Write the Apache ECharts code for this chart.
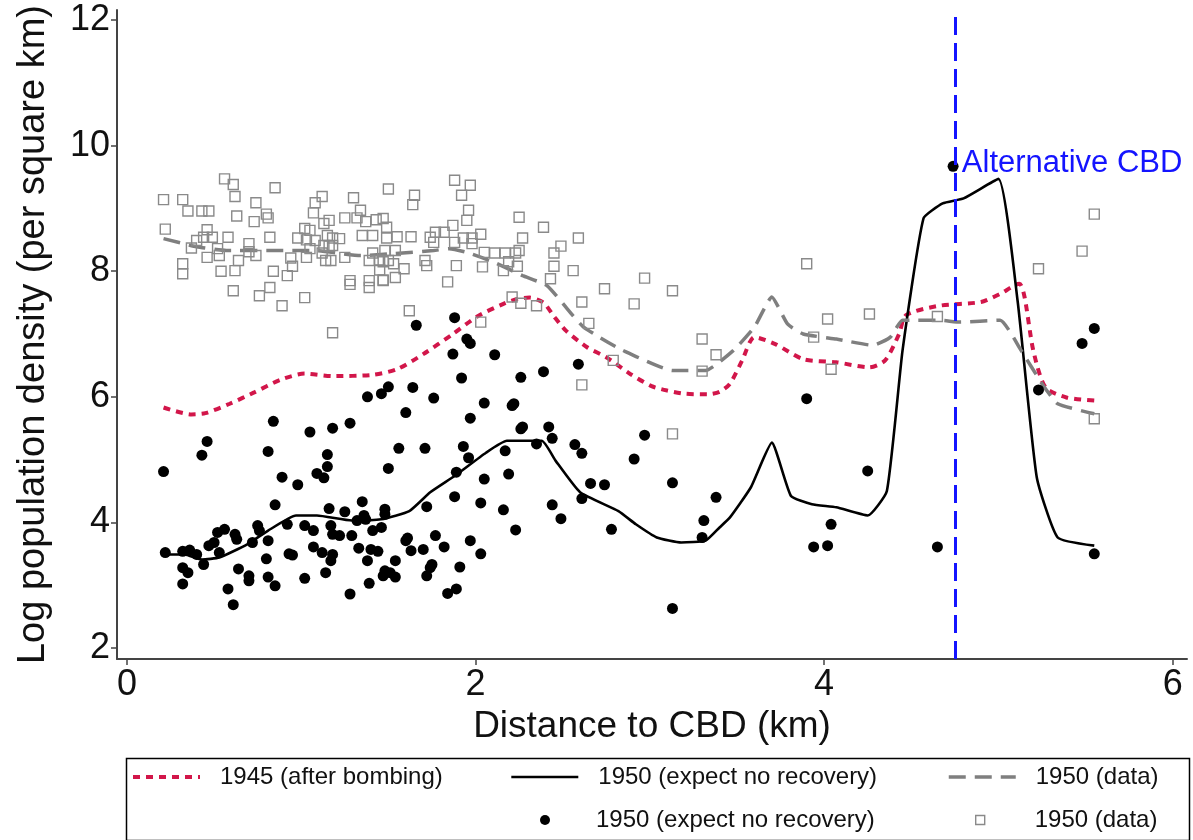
<!DOCTYPE html>
<html><head><meta charset="utf-8">
<script src="https://cdn.jsdelivr.net/npm/echarts@6/dist/echarts.min.js"></script>
<style>html,body{margin:0;padding:0;background:#fff}#c{width:1193px;height:840px}</style>
</head><body><div id="c"></div>
<script>
const xTicks = [0, 2, 4, 6];
const yTicks = [2, 4, 6, 8, 10, 12];
const cbdX = 4.75;
const cbdLabelY = 9.72;
const cbdLabel = 'Alternative CBD';
const xTitle = 'Distance to CBD (km)';
const yTitle = 'Log population density (per square km)';
const name1945 = '1945 (after bombing)';
const nameNoRec = '1950 (expect no recovery)';
const nameData = '1950 (data)';

// 1945 (after bombing) fitted line
const line1945 = [[0.21,5.83],[0.37,5.72],[0.45,5.74],[0.59,5.89],[0.73,6.07],[0.88,6.27],[1.02,6.37],[1.18,6.33],[1.41,6.35],[1.55,6.44],[1.70,6.68],[1.87,7.0],[2.01,7.28],[2.16,7.48],[2.24,7.56],[2.31,7.58],[2.39,7.50],[2.45,7.28],[2.52,7.05],[2.64,6.79],[2.75,6.63],[2.89,6.36],[3.01,6.17],[3.10,6.10],[3.20,6.05],[3.33,6.04],[3.40,6.08],[3.46,6.21],[3.53,6.58],[3.60,6.95],[3.72,6.84],[3.88,6.60],[4.07,6.55],[4.26,6.47],[4.35,6.58],[4.43,7.00],[4.47,7.30],[4.66,7.45],[4.90,7.51],[5.01,7.64],[5.12,7.80],[5.15,7.59],[5.20,6.74],[5.27,6.15],[5.39,5.99],[5.55,5.94]];
// 1950 (expect no recovery) fitted line
const lineNoRec = [[0.23,3.49],[0.33,3.49],[0.43,3.41],[0.53,3.44],[0.69,3.65],[0.81,3.87],[0.97,4.11],[1.09,4.11],[1.29,4.03],[1.46,4.05],[1.62,4.18],[1.74,4.48],[1.88,4.74],[2.06,5.11],[2.18,5.30],[2.38,5.30],[2.46,4.98],[2.60,4.48],[2.82,4.18],[2.92,3.97],[3.04,3.76],[3.18,3.68],[3.32,3.71],[3.40,3.92],[3.46,4.08],[3.58,4.56],[3.70,5.27],[3.81,4.42],[3.93,4.29],[4.07,4.24],[4.25,4.11],[4.36,4.50],[4.45,6.74],[4.57,8.84],[4.68,9.08],[4.80,9.16],[5.00,9.47],[5.11,7.53],[5.22,4.72],[5.34,3.76],[5.55,3.63]];
// 1950 (data) fitted line
const lineData = [[0.21,8.52],[0.40,8.39],[0.57,8.33],[0.80,8.33],[1.07,8.33],[1.34,8.25],[1.53,8.28],[1.76,8.33],[1.85,8.36],[1.95,8.30],[2.10,8.15],[2.27,7.93],[2.41,7.77],[2.56,7.29],[2.62,7.11],[2.71,6.95],[2.83,6.76],[3.13,6.42],[3.32,6.42],[3.48,6.74],[3.60,7.11],[3.70,7.59],[3.79,7.16],[3.88,7.00],[4.07,6.92],[4.28,6.82],[4.38,6.95],[4.45,7.22],[4.66,7.22],[4.78,7.19],[5.01,7.22],[5.13,6.74],[5.25,6.21],[5.34,5.89],[5.55,5.73]];
// 1950 (expect no recovery) points
const dotsNoRec = [[0.21,4.81],[0.46,5.29],[0.43,5.07],[0.84,5.61],[0.81,5.13],[1.05,5.44],[1.18,5.50],[1.15,5.08],[1.15,4.89],[1.09,4.78],[1.13,4.71],[0.89,4.72],[0.98,4.60],[0.85,4.28],[1.16,4.22],
[0.22,3.52],[0.32,3.54],[0.36,3.56],[0.40,3.49],[0.32,3.28],[0.35,3.20],[0.32,3.02],[0.44,3.33],[0.47,3.63],[0.50,3.68],[0.52,3.84],[0.56,3.89],[0.53,3.52],[0.62,3.81],[0.63,3.73],[0.64,3.26],[0.70,3.15],[0.70,3.07],[0.58,2.94],[0.61,2.69],[0.75,3.95],[0.76,3.87],[0.72,3.68],[0.81,3.71],[0.80,3.42],[0.81,3.13],[0.85,2.99],[0.93,3.50],[0.95,3.48],[1.02,3.11],[0.92,3.97],[1.02,3.95],[1.07,3.87],[1.07,3.61],[1.12,3.52],[1.14,3.20],[1.17,3.39],[1.18,3.81],[1.17,3.95],
[1.66,7.14],[1.88,7.26],[1.95,6.92],[1.97,6.85],[1.87,6.68],[2.11,6.67],[1.92,6.30],[2.26,6.31],[1.38,6.00],[1.46,6.05],[1.50,6.16],[1.64,6.15],[1.76,5.98],[1.60,5.75],[2.05,5.90],[2.21,5.86],[2.22,5.89],[1.97,5.66],[1.28,5.58],[1.56,5.18],[1.71,5.18],[1.93,5.21],[1.96,5.03],[2.26,5.49],[2.27,5.52],[2.17,5.14],[2.19,4.77],[2.05,4.69],[1.89,4.80],[1.50,4.86],[1.88,4.41],[2.03,4.31],[2.16,4.20],[2.23,3.88],[1.72,4.25],[1.35,4.33],[1.25,4.17],[1.48,4.21],[1.48,4.13],[1.36,4.11],[1.32,4.03],[1.37,4.05],[1.46,3.92],[1.41,3.87],[1.29,3.79],[1.22,3.79],[1.61,3.75],[1.60,3.71],[1.77,3.79],[1.82,3.61],[1.97,3.71],[2.03,3.50],[1.33,3.59],[1.40,3.57],[1.44,3.54],[1.63,3.55],[1.70,3.57],[1.18,3.49],[1.38,3.39],[1.54,3.39],[1.75,3.33],[1.74,3.28],[1.91,3.29],[1.48,3.23],[1.51,3.20],[1.54,3.13],[1.47,3.15],[1.72,3.15],[1.39,3.03],[1.28,2.86],[1.84,2.87],[1.89,2.94],
[2.59,6.52],[2.39,6.40],[2.42,5.52],[2.44,5.34],[2.35,5.25],[2.57,5.24],[2.61,5.10],[2.97,5.39],[2.91,5.01],[3.13,4.63],[3.38,4.40],[2.66,4.62],[2.74,4.60],[2.61,4.38],[2.44,4.28],[2.49,4.06],[2.78,3.89],[3.31,4.03],[3.30,3.76],[3.13,2.63],
[4.74,9.67],[3.90,5.97],[5.48,6.85],[5.55,7.09],[5.23,6.11],[4.25,4.82],[4.65,3.61],[5.55,3.50],[3.94,3.61],[4.02,3.63],[4.04,3.97]];
// 1950 (data) points
const squaresData = [[0.56,9.47],[0.61,9.38],[0.62,9.19],[0.85,9.33],[0.21,9.14],[0.32,9.14],[0.35,8.96],[0.43,8.96],[0.47,8.96],[0.74,9.09],[0.63,8.88],[0.73,8.79],[0.80,8.91],[0.81,8.85],[0.22,8.67],[0.46,8.66],[0.44,8.54],[0.49,8.54],[0.40,8.49],[0.58,8.54],[0.37,8.37],[0.46,8.22],[0.52,8.36],[0.53,8.25],[0.70,8.44],[0.70,8.31],[0.74,8.25],[0.64,8.17],[0.32,8.12],[0.32,7.96],[0.54,8.00],[0.62,8.01],[0.82,8.54],[0.84,8.00],[0.94,8.21],[0.95,8.08],[0.92,7.93],[0.61,7.69],[0.82,7.74],[0.76,7.61],[0.89,7.45],[1.02,7.58],[1.18,7.02],[1.12,9.19],[1.08,9.09],[1.07,8.93],[1.30,9.17],[1.34,8.97],[1.25,8.85],[1.32,8.85],[1.37,8.79],[1.16,8.81],[1.13,8.76],[1.02,8.68],[1.05,8.65],[0.98,8.53],[1.03,8.50],[1.08,8.49],[1.15,8.57],[1.18,8.53],[1.22,8.52],[1.13,8.41],[1.16,8.40],[1.18,8.41],[1.05,8.36],[1.03,8.22],[1.12,8.29],[1.14,8.17],[1.17,8.17],[1.25,8.22],[1.35,8.57],[1.41,8.57],[1.43,8.82],[1.47,8.84],[1.49,8.70],[1.41,8.29],[1.45,8.17],[1.47,8.15],[1.39,8.17],[1.45,8.02],[1.47,7.86],[1.28,7.85],[1.28,7.79],[1.39,7.85],[1.39,7.74],[1.50,9.31],[1.49,8.53],
[1.88,9.45],[1.97,9.37],[1.92,9.21],[1.65,9.21],[1.64,9.06],[1.96,8.97],[1.95,8.81],[1.87,8.73],[1.77,8.62],[1.82,8.62],[1.55,8.55],[1.63,8.55],[1.74,8.54],[1.76,8.46],[1.93,8.53],[1.98,8.53],[2.03,8.59],[1.88,8.46],[1.98,8.44],[2.25,8.86],[2.39,8.70],[2.27,8.53],[2.59,8.53],[2.49,8.40],[2.45,8.29],[1.48,8.33],[1.54,8.33],[1.50,8.17],[1.53,8.12],[1.59,8.04],[1.54,7.90],[1.47,7.85],[1.71,8.17],[1.72,8.09],[1.89,8.09],[1.84,7.83],[2.05,8.30],[2.11,8.29],[2.17,8.29],[2.23,8.29],[2.25,8.33],[2.04,8.07],[2.16,8.01],[2.19,8.15],[2.24,8.08],[2.45,8.08],[2.43,7.88],[2.56,8.01],[2.74,7.72],[2.61,7.51],[2.21,7.59],[2.26,7.49],[2.35,7.45],[1.62,7.37],[2.03,7.19],[2.65,7.17],[2.79,6.58],
[2.91,7.48],[3.30,6.92],[3.38,6.67],[3.30,6.41],[2.61,6.19],[3.13,5.41],[2.97,7.89],[3.13,7.69],[3.90,8.12],[4.02,7.24],[3.94,6.95],[4.04,6.44],[4.26,7.32],[4.65,7.28],[5.23,8.04],[5.48,8.32],[5.55,8.91],[5.55,5.65]];

const FONT = '"Liberation Sans", Arial, Helvetica, sans-serif';
const RED = '#d2164a', GRAY_LINE = '#7f7f7f', GRAY_SQ = '#8a8a8a', BLUE = '#1414ff';
const redStyle = {color: RED, width: 4, type: [7, 6]};
const blackStyle = {color: '#000', width: 2.6, type: 'solid'};
const grayStyle = {color: GRAY_LINE, width: 3.5, type: [17, 9]};
const hideSym = {color: 'rgba(0,0,0,0)', borderWidth: 0, opacity: 0};
function legText(pad) {
  return {fontSize: 24, fontFamily: FONT, color: '#111', lineHeight: 28, padding: [0, 0, 0, pad]};
}

function legend(left, top, w, h, pad, item) {
  return {
    left: left, top: top, padding: 0, itemWidth: w, itemHeight: h,
    selectedMode: false, textStyle: legText(pad), data: [item]
  };
}

const chart = echarts.init(document.getElementById('c'), null, {renderer: 'canvas'});
chart.setOption({
  animation: false,
  backgroundColor: '#fff',
  grid: {left: 117, right: 6, top: 10, bottom: 181, containLabel: false},
  xAxis: {
    type: 'value', min: -0.057, max: 6.082,
    name: xTitle, nameLocation: 'middle', nameGap: 28,
    nameTextStyle: {fontSize: 37, fontFamily: FONT, color: '#111'},
    splitLine: {show: false},
    axisLine: {show: true, onZero: false, lineStyle: {color: '#444', width: 2}},
    axisTick: {show: true, customValues: xTicks, length: 6, lineStyle: {color: '#444', width: 1.5}},
    axisLabel: {customValues: xTicks, fontSize: 36, fontFamily: FONT, color: '#111', margin: 8}
  },
  yAxis: {
    type: 'value', min: 1.825, max: 12.16,
    name: yTitle, nameLocation: 'middle', nameGap: 64,
    nameTextStyle: {fontSize: 38, fontFamily: FONT, color: '#111'},
    splitLine: {show: false},
    axisLine: {show: true, onZero: false, lineStyle: {color: '#444', width: 2}},
    axisTick: {show: true, customValues: yTicks, length: 6, lineStyle: {color: '#444', width: 1.5}},
    axisLabel: {customValues: yTicks, fontSize: 36, fontFamily: FONT, color: '#111', margin: 7}
  },
  legend: [
    legend(131, 763, 67, 14, 15, {name: name1945, itemStyle: hideSym, lineStyle: redStyle}),
    legend(510, 763, 67, 14, 15, {name: nameNoRec, itemStyle: hideSym, lineStyle: blackStyle}),
    legend(947, 763, 67, 14, 15, {name: nameData, itemStyle: hideSym, lineStyle: grayStyle}),
    legend(540, 806, 10, 10, 41, {name: nameNoRec, icon: 'circle', itemStyle: {color: '#000', borderWidth: 0, opacity: 1}}),
    legend(975, 806, 9, 9, 45, {name: nameData, icon: 'rect', itemStyle: {color: '#fff', borderColor: GRAY_SQ, borderWidth: 1.4, opacity: 1}})
  ],
  graphic: [{
    type: 'rect', left: 124, top: 756, silent: true,
    shape: {width: 1063, height: 82},
    style: {fill: 'none', stroke: '#000', lineWidth: 1.5}
  }],
  series: [
    {name: name1945, type: 'line', data: line1945, symbol: 'none', smooth: 0.25, lineStyle: redStyle, itemStyle: {color: RED}, z: 3},
    {name: nameNoRec, type: 'line', data: lineNoRec, symbol: 'none', smooth: 0.15, lineStyle: blackStyle, itemStyle: {color: '#000'}, z: 3},
    {name: nameData, type: 'line', data: lineData, symbol: 'none', smooth: 0.15, lineStyle: grayStyle, itemStyle: {color: GRAY_LINE}, z: 3},
    {name: nameNoRec, type: 'scatter', data: dotsNoRec, symbol: 'circle', symbolSize: 11, itemStyle: {color: '#000', opacity: 1}, z: 4},
    {name: nameData, type: 'scatter', data: squaresData, symbol: 'rect', symbolSize: 10,
      itemStyle: {color: 'rgba(255,255,255,0)', borderColor: GRAY_SQ, borderWidth: 1.4, opacity: 1}, z: 4,
      markLine: {
        silent: true, symbol: ['none', 'none'], label: {show: false},
        lineStyle: {color: BLUE, width: 3, type: [18, 8]},
        data: [{xAxis: cbdX}], z: 6
      },
      markPoint: {
        silent: true,
        data: [{coord: [cbdX, cbdLabelY], symbol: 'circle', symbolSize: 0,
          label: {show: true, position: 'right', distance: 7, formatter: cbdLabel,
            color: BLUE, fontSize: 31, fontFamily: FONT}}]
      }
    }
  ]
});
</script>
</body></html>
